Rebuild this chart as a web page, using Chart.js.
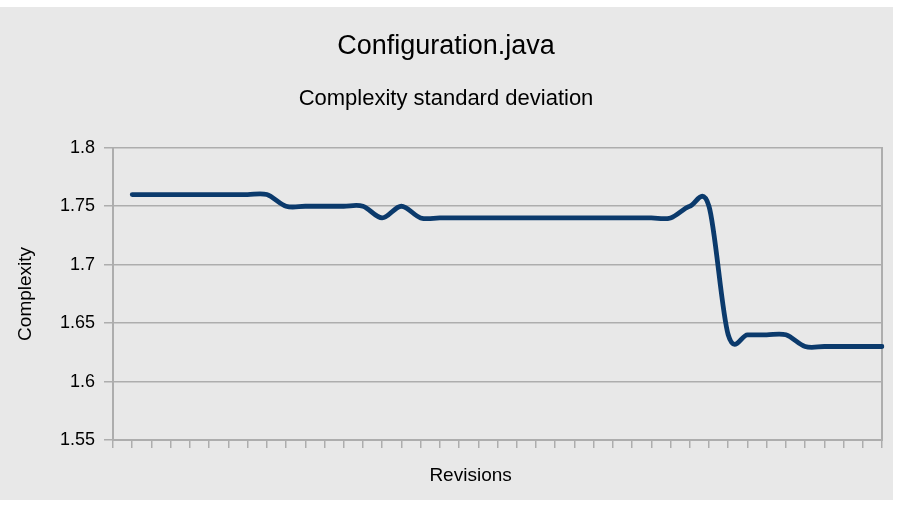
<!DOCTYPE html>
<html>
<head>
<meta charset="utf-8">
<title>Configuration.java</title>
<script src="https://cdn.jsdelivr.net/npm/chart.js@4"></script>
<style>
  body { margin: 0; background: #fff; }
  #panel { position: absolute; left: 0; top: 7px; width: 893px; height: 493px; background: #e8e8e8; }
  #wrap { position: absolute; left: 0; top: 0; width: 900px; height: 506px; }
</style>
</head>
<body>
<div id="panel"></div>
<div id="wrap"><canvas id="chart" width="900" height="506"></canvas></div>
<script>
// revisions 0..40, the first one has no value
const revisions = ['0','1','2','3','4','5','6','7','8','9','10','11','12','13','14','15','16','17','18','19','20',
                   '21','22','23','24','25','26','27','28','29','30','31','32','33','34','35','36','37','38','39','40'];
const stdDeviation = [null,
    1.76, 1.76, 1.76, 1.76, 1.76, 1.76, 1.76, 1.76,
    1.75, 1.75, 1.75, 1.75, 1.75,
    1.74, 1.75,
    1.74, 1.74, 1.74, 1.74, 1.74, 1.74, 1.74, 1.74, 1.74, 1.74, 1.74, 1.74, 1.74, 1.74,
    1.75, 1.75,
    1.64, 1.64, 1.64, 1.64,
    1.63, 1.63, 1.63, 1.63, 1.63];
const yTicks = [1.55, 1.6, 1.65, 1.7, 1.75, 1.8];

const FONT = "'Liberation Sans', Arial, sans-serif";
const GRID = '#adadad';

// Office style smoothing: control points at 1/6 of the neighbour span
const officeSmooth = {
    id: 'officeSmooth',
    beforeDatasetDraw(chart, args) {
        const line = args.meta.dataset;
        const pts = args.meta.data.filter(p => !p.skip);
        pts.forEach((p, i) => {
            const prev = pts[i - 1] || p;
            const next = pts[i + 1] || p;
            p.cp1x = p.x - (next.x - prev.x) / 6;
            p.cp1y = p.y - (next.y - prev.y) / 6;
            p.cp2x = p.x + (next.x - prev.x) / 6;
            p.cp2y = p.y + (next.y - prev.y) / 6;
        });
        line._pointsUpdated = true;
    }
};

// x axis title sits a little left of the plot centre, like the original
const xAxisTitle = {
    id: 'xAxisTitle',
    afterDraw(chart) {
        const { ctx, chartArea } = chart;
        ctx.save();
        ctx.font = '19px ' + FONT;
        ctx.fillStyle = '#000';
        ctx.textAlign = 'center';
        ctx.textBaseline = 'middle';
        ctx.fillText('Revisions', chartArea.left + (chartArea.right - chartArea.left) * 0.465, chartArea.bottom + 36);
        ctx.restore();
    }
};

new Chart(document.getElementById('chart').getContext('2d'), {
    type: 'line',
    data: {
        labels: revisions,
        datasets: [{
            label: 'Complexity standard deviation',
            data: stdDeviation,
            borderColor: '#0b3a6c',
            borderWidth: 4.8,
            borderCapStyle: 'round',
            borderJoinStyle: 'round',
            pointRadius: 0,
            tension: 0.3,
            fill: false
        }]
    },
    options: {
        responsive: false,
        animation: false,
        devicePixelRatio: 1,
        layout: { padding: { top: 30, left: 10, right: 18, bottom: 58 } },
        plugins: {
            legend: { display: false },
            tooltip: { enabled: false },
            title: {
                display: true,
                text: 'Configuration.java',
                color: '#000',
                font: { family: FONT, size: 27, weight: 'normal', lineHeight: 1.2 },
                padding: { top: 0, bottom: 23 }
            },
            subtitle: {
                display: true,
                text: 'Complexity standard deviation',
                color: '#000',
                font: { family: FONT, size: 22, weight: 'normal', lineHeight: 1.2 },
                padding: { top: 0, bottom: 36 }
            }
        },
        scales: {
            x: {
                offset: false,
                grid: { drawOnChartArea: false, drawTicks: true, tickLength: 8, color: GRID, lineWidth: 1.5 },
                border: { color: GRID, width: 2 },
                ticks: { display: false, autoSkip: false, maxRotation: 0 }
            },
            y: {
                min: 1.55,
                max: 1.8,
                afterBuildTicks: scale => { scale.ticks = yTicks.map(v => ({ value: v })); },
                afterFit: scale => { scale.width = 103; },
                grid: { color: GRID, lineWidth: 1.5, tickLength: 9 },
                border: { color: GRID, width: 2 },
                ticks: {
                    color: '#000',
                    padding: 9,
                    font: { family: FONT, size: 18 },
                    callback: v => String(+v.toFixed(2))
                },
                title: {
                    display: true,
                    text: 'Complexity',
                    color: '#000',
                    font: { family: FONT, size: 19 },
                    padding: { top: 4, bottom: 4 }
                }
            },
            frame: {
                position: 'right',
                min: 0,
                max: 1,
                grid: { drawOnChartArea: false, drawTicks: false },
                border: { color: GRID, width: 2 },
                ticks: { display: false }
            }
        }
    },
    plugins: [officeSmooth, xAxisTitle]
});
</script>
</body>
</html>
